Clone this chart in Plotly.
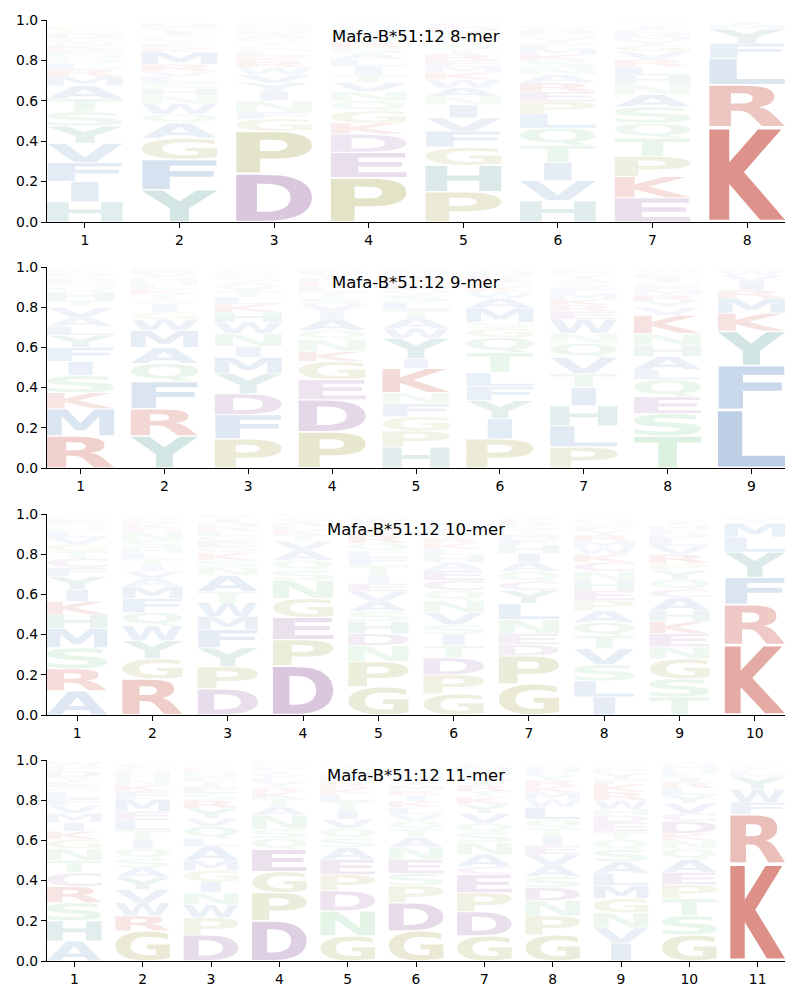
import glob
import os
import struct
import subprocess
import plotly.graph_objects as go

# ---------------- data (letters listed bottom -> top, heights = probability) -------------
mer8_letters = [
    "HIFVYSTAMRLQNEKWCDGP", "YFGAQWNHSLVRMKETPICD", "DPGFNIYVWRKLSTQAEHMC",
    "PEDKGQNVTILASRYMFHWC", "PHGFVINAWKMERTSQLYDC", "HVITQLPERANSKMFYGDWC",
    "EKPTQSANHLRVGYMDFIWC", "KRLFYMI",
]
mer8_heights = [
    [.100, .100, .095, .095, .085, .070, .065, .065, .045, .035, .030, .025, .025, .020, .020, .015, .020, .020, .020, .020],
    [.160, .150, .105, .075, .045, .050, .040, .035, .030, .030, .025, .035, .060, .020, .020, .020, .020, .025, .020, .020],
    [.240, .210, .060, .035, .055, .045, .045, .040, .035, .030, .025, .025, .025, .020, .020, .020, .015, .015, .015, .010],
    [.220, .125, .090, .055, .060, .050, .045, .045, .040, .040, .035, .030, .030, .025, .020, .020, .020, .015, .010, .010],
    [.150, .130, .090, .080, .065, .065, .040, .045, .040, .035, .030, .030, .030, .025, .025, .020, .020, .020, .025, .020],
    [.105, .100, .090, .085, .085, .070, .060, .050, .045, .040, .035, .035, .030, .030, .025, .025, .020, .020, .015, .010],
    [.120, .105, .100, .090, .075, .080, .060, .050, .045, .045, .035, .040, .030, .025, .020, .020, .015, .015, .010, .010],
    [.470, .210, .130, .075, .070, .020, .015],
]

mer9_letters = [
    "RMKSIFYLAVTHQNEGDWCP", "YRFQAMWGISTKLHNVEPDC", "PFDYMINWHKLTVASEQGRC",
    "PDEGKNQAIVSTLRHYFMWC", "HPGFNKIYWATLSQERVMDC", "PIYFLTQGSMAWKNREHVDC",
    "PLHITVQNWERKMFSAYGDC", "TSEQLAHNKVYRMFGIDPWC", "LFYKMRIVWH",
]
mer9_heights = [
    [.160, .135, .080, .085, .070, .070, .060, .045, .045, .050, .035, .040, .025, .020, .020, .015, .015, .010, .010, .010],
    [.160, .135, .135, .090, .080, .085, .055, .035, .040, .025, .025, .025, .020, .020, .020, .020, .015, .010, .005, .005],
    [.145, .120, .105, .100, .080, .055, .065, .055, .050, .040, .035, .030, .025, .020, .020, .015, .015, .010, .010, .005],
    [.180, .160, .100, .090, .050, .060, .045, .055, .040, .035, .030, .030, .025, .025, .020, .020, .015, .010, .005, .005],
    [.105, .080, .070, .065, .055, .120, .050, .100, .050, .050, .040, .040, .035, .030, .030, .025, .020, .015, .010, .010],
    [.145, .100, .090, .070, .070, .100, .075, .045, .030, .070, .050, .030, .025, .020, .020, .020, .015, .010, .010, .005],
    [.105, .105, .100, .090, .070, .080, .070, .050, .070, .040, .030, .030, .030, .025, .025, .020, .020, .010, .010, .010],
    [.160, .110, .085, .085, .050, .065, .055, .060, .090, .040, .030, .030, .025, .020, .020, .020, .015, .015, .010, .010],
    [.290, .220, .170, .090, .075, .040, .045, .030, .020, .010],
]

mer10_letters = [
    "ARSMHKIYFCTGVLNQEDPW", "RGYWQFMAVITLHSNEKDPC", "DPYFMWTANSKQEGLRHIVC",
    "DPEGNSQAVTKLRYFIHM", "GPNDHSAVEITFLQRKYMWC", "GPDTISVNQCEAHLKRYFMW",
    "GPDENLYCQAIHFMTSRKWV", "ILSVTQAPEHNCKWMRYFGD", "TSGNEKHACQYPRVLDFMIW",
    "KRFYLMIHW",
]
mer10_heights = [
    [.120, .110, .105, .095, .070, .065, .060, .065, .045, .045, .035, .035, .035, .030, .020, .020, .015, .010, .010, .010],
    [.180, .100, .090, .075, .065, .070, .060, .040, .035, .030, .030, .030, .025, .040, .040, .020, .020, .015, .015, .010],
    [.130, .110, .095, .090, .065, .070, .055, .080, .040, .035, .035, .030, .030, .025, .025, .020, .020, .020, .015, .010],
    [.245, .130, .110, .095, .090, .050, .050, .050, .045, .030, .025, .020, .015, .015, .010, .010, .010, .005],
    [.140, .125, .080, .060, .060, .050, .050, .050, .040, .040, .050, .040, .030, .040, .040, .025, .020, .015, .020, .010],
    [.105, .095, .085, .060, .055, .050, .060, .060, .050, .050, .050, .040, .035, .030, .030, .025, .025, .020, .020, .015],
    [.155, .140, .055, .055, .070, .080, .065, .045, .050, .045, .045, .040, .030, .025, .020, .020, .020, .015, .010, .010],
    [.090, .080, .080, .080, .065, .065, .060, .050, .050, .050, .045, .045, .040, .035, .030, .030, .025, .020, .020, .015],
    [.090, .090, .100, .060, .065, .060, .055, .065, .040, .050, .045, .035, .045, .040, .040, .025, .020, .020, .015, .010],
    [.350, .200, .135, .125, .075, .070, .015, .010, .010],
]

mer11_letters = [
    "AHSRCTNGKIMVFLQEYDPW", "GRWVYASQITLEMFKNHDPC", "DPWNIGMALQVYRSETFHKC",
    "DPGEQSNATKRYLVIFHMWC", "GNDPEASQVITLKRHMFYWC", "GDPSENATQVLKIRMYHFWC",
    "GDPECANSQVYKTRILHMFW", "GPNDSAVEITQLWMKRYFHC", "IVNGMLASQTEDHWRKFYPC",
    "GSTPEAQNKDCVYLRIFHMW", "KRFWYMLIEVH",
]
mer11_heights = [
    [.100, .100, .090, .080, .070, .060, .060, .045, .040, .045, .045, .040, .035, .030, .025, .025, .025, .030, .025, .020],
    [.150, .075, .065, .065, .060, .050, .045, .050, .045, .045, .050, .045, .060, .040, .030, .030, .030, .015, .015, .020],
    [.130, .085, .065, .060, .055, .055, .050, .070, .040, .060, .040, .050, .040, .035, .030, .030, .025, .020, .015, .010],
    [.200, .140, .105, .110, .055, .045, .070, .045, .040, .030, .025, .025, .020, .020, .015, .015, .010, .010, .010, .010],
    [.125, .125, .100, .080, .075, .060, .045, .050, .045, .045, .045, .035, .030, .025, .020, .020, .015, .015, .010, .010],
    [.150, .140, .085, .060, .070, .060, .050, .040, .040, .035, .035, .030, .030, .025, .025, .025, .020, .020, .010, .010],
    [.125, .120, .095, .090, .040, .060, .060, .050, .045, .050, .045, .035, .030, .030, .025, .025, .020, .020, .015, .010],
    [.130, .095, .075, .065, .055, .055, .055, .045, .045, .040, .045, .060, .040, .035, .030, .030, .025, .020, .020, .010],
    [.090, .075, .075, .070, .065, .060, .060, .060, .050, .040, .045, .035, .030, .045, .040, .040, .025, .030, .025, .010],
    [.130, .095, .085, .070, .060, .065, .055, .040, .035, .060, .040, .050, .040, .035, .030, .025, .020, .020, .020, .015],
    [.485, .245, .060, .065, .060, .020, .015, .010, .010, .010, .010],
]

titles = ["Mafa-B*51:12 8-mer", "Mafa-B*51:12 9-mer", "Mafa-B*51:12 10-mer", "Mafa-B*51:12 11-mer"]
y_ticks = [0.0, 0.2, 0.4, 0.6, 0.8, 1.0]
y_ticklabels = ["0.0", "0.2", "0.4", "0.6", "0.8", "1.0"]

# ---------------- style -------------------------------------------------------------------
COLORS = {}
for ch in "KR":
    COLORS[ch] = (192, 57, 43)
for ch in "DE":
    COLORS[ch] = (140, 80, 150)
for ch in "PG":
    COLORS[ch] = (160, 160, 70)
for ch in "HY":
    COLORS[ch] = (70, 145, 140)
for ch in "AVLIFMW":
    COLORS[ch] = (75, 125, 185)
for ch in "STNQ":
    COLORS[ch] = (110, 195, 125)
COLORS["C"] = (150, 100, 160)

GLYPH_WIDTH = 0.8
VPAD = 0.05
FONT = "DejaVu Sans"


def alpha_of(h):
    return max(0.02, min(1.0, h ** 0.8))


# ---------------- minimal TrueType outline reader ----------------------------------------
def find_font():
    pats = ["/usr/share/fonts/**/DejaVuSans-Bold.ttf",
            "/usr/local/share/fonts/**/DejaVuSans-Bold.ttf",
            os.path.expanduser("~/.fonts/**/DejaVuSans-Bold.ttf"),
            "/usr/share/fonts/**/DejaVuSans-Bold*.ttf"]
    for p in pats:
        r = glob.glob(p, recursive=True)
        if r:
            return r[0]
    try:
        out = subprocess.run(["fc-match", "-f", "%{file}", "DejaVu Sans:bold"],
                             capture_output=True, text=True, timeout=10).stdout.strip()
        if out and os.path.exists(out) and out.lower().endswith(".ttf"):
            return out
    except Exception:
        pass
    for p in ["/usr/share/fonts/**/LiberationSans-Bold.ttf", "/usr/share/fonts/**/*Bold*.ttf"]:
        r = glob.glob(p, recursive=True)
        if r:
            return r[0]
    return None


def load_glyphs(path, chars):
    data = open(path, "rb").read()
    ntab = struct.unpack(">H", data[4:6])[0]
    tables = {}
    for i in range(ntab):
        tag, _cs, off, ln = struct.unpack(">4sIII", data[12 + 16 * i:28 + 16 * i])
        tables[tag.decode("latin1")] = off
    head = tables["head"]
    locfmt = struct.unpack(">h", data[head + 50:head + 52])[0]
    maxp = tables["maxp"]
    ng = struct.unpack(">H", data[maxp + 4:maxp + 6])[0]
    loca = tables["loca"]
    if locfmt == 0:
        offs = [2 * v for v in struct.unpack(">%dH" % (ng + 1), data[loca:loca + 2 * (ng + 1)])]
    else:
        offs = list(struct.unpack(">%dI" % (ng + 1), data[loca:loca + 4 * (ng + 1)]))
    glyf = tables["glyf"]
    cmap = tables["cmap"]
    nsub = struct.unpack(">H", data[cmap + 2:cmap + 4])[0]
    sub = None
    for i in range(nsub):
        pid, eid, off = struct.unpack(">HHI", data[cmap + 4 + 8 * i:cmap + 12 + 8 * i])
        fmt = struct.unpack(">H", data[cmap + off:cmap + off + 2])[0]
        if fmt == 4 and pid in (0, 3):
            sub = cmap + off
            break
    segx2 = struct.unpack(">H", data[sub + 6:sub + 8])[0]
    seg = segx2 // 2
    ends = struct.unpack(">%dH" % seg, data[sub + 14:sub + 14 + segx2])
    so = sub + 16 + segx2
    starts = struct.unpack(">%dH" % seg, data[so:so + segx2])
    do = so + segx2
    deltas = struct.unpack(">%dh" % seg, data[do:do + segx2])
    ro = do + segx2
    ros = struct.unpack(">%dH" % seg, data[ro:ro + segx2])

    def gid(c):
        code = ord(c)
        for i in range(seg):
            if ends[i] >= code:
                if starts[i] > code:
                    return 0
                if ros[i] == 0:
                    return (code + deltas[i]) & 0xFFFF
                addr = ro + 2 * i + ros[i] + 2 * (code - starts[i])
                g = struct.unpack(">H", data[addr:addr + 2])[0]
                return ((g + deltas[i]) & 0xFFFF) if g else 0
        return 0

    def contours_of(g):
        s = glyf + offs[g]
        e = glyf + offs[g + 1]
        if e <= s:
            return []
        nc = struct.unpack(">h", data[s:s + 2])[0]
        p = s + 10
        if nc < 0:
            res = []
            while True:
                flags, gi = struct.unpack(">HH", data[p:p + 4])
                p += 4
                if flags & 1:
                    a1, a2 = struct.unpack(">hh", data[p:p + 4])
                    p += 4
                else:
                    a1, a2 = struct.unpack(">bb", data[p:p + 2])
                    p += 2
                sx = sy = 1.0
                if flags & 8:
                    sx = sy = struct.unpack(">h", data[p:p + 2])[0] / 16384.0
                    p += 2
                elif flags & 0x40:
                    sx, sy = [v / 16384.0 for v in struct.unpack(">hh", data[p:p + 4])]
                    p += 4
                elif flags & 0x80:
                    p += 8
                dx, dy = (a1, a2) if flags & 2 else (0, 0)
                for c in contours_of(gi):
                    res.append([(x * sx + dx, y * sy + dy, on) for x, y, on in c])
                if not flags & 0x20:
                    break
            return res
        endpts = struct.unpack(">%dH" % nc, data[p:p + 2 * nc])
        p += 2 * nc
        ilen = struct.unpack(">H", data[p:p + 2])[0]
        p += 2 + ilen
        npts = endpts[-1] + 1 if nc else 0
        fl = []
        while len(fl) < npts:
            f = data[p]
            p += 1
            fl.append(f)
            if f & 8:
                r = data[p]
                p += 1
                fl.extend([f] * r)
        fl = fl[:npts]
        xs, v = [], 0
        for f in fl:
            if f & 2:
                d = data[p]
                p += 1
                v += d if f & 16 else -d
            elif not f & 16:
                v += struct.unpack(">h", data[p:p + 2])[0]
                p += 2
            xs.append(v)
        ys, v = [], 0
        for f in fl:
            if f & 4:
                d = data[p]
                p += 1
                v += d if f & 32 else -d
            elif not f & 32:
                v += struct.unpack(">h", data[p:p + 2])[0]
                p += 2
            ys.append(v)
        res, st = [], 0
        for e2 in endpts:
            res.append([(xs[i], ys[i], bool(fl[i] & 1)) for i in range(st, e2 + 1)])
            st = e2 + 1
        return res

    def segments(pts):
        if not any(on for _, _, on in pts):
            mx = (pts[0][0] + pts[-1][0]) / 2.0
            my = (pts[0][1] + pts[-1][1]) / 2.0
            pts = [(mx, my, True)] + pts
        k = next(i for i, t in enumerate(pts) if t[2])
        seq = pts[k:] + pts[:k]
        segs = [("M", (seq[0][0], seq[0][1]))]
        ctrl = None
        for x, y, on in seq[1:] + [seq[0]]:
            if on:
                if ctrl is None:
                    segs.append(("L", (x, y)))
                else:
                    segs.append(("Q", ctrl, (x, y)))
                    ctrl = None
            else:
                if ctrl is None:
                    ctrl = (x, y)
                else:
                    segs.append(("Q", ctrl, ((ctrl[0] + x) / 2.0, (ctrl[1] + y) / 2.0)))
                    ctrl = (x, y)
        segs.append(("Z",))
        return segs

    out = {}
    for ch in chars:
        cs = contours_of(gid(ch))
        allp = [(x, y) for c in cs for x, y, _ in c]
        if not allp:
            continue
        bb = (min(p[0] for p in allp), min(p[1] for p in allp),
              max(p[0] for p in allp), max(p[1] for p in allp))
        segs = []
        for c in cs:
            segs.extend(segments(c))
        out[ch] = (segs, bb)
    return out


ALPHABET = "ACDEFGHIKLMNPQRSTVWY"
glyphs = {}
try:
    fp = find_font()
    if fp:
        glyphs = load_glyphs(fp, ALPHABET)
except Exception:
    glyphs = {}

E_WIDTH = (glyphs["E"][1][2] - glyphs["E"][1][0]) if "E" in glyphs else None


def glyph_path(ch, xc, floor, ceil):
    segs, (bx0, by0, bx1, by1) = glyphs[ch]
    cw = bx1 - bx0
    hs = min(GLYPH_WIDTH / cw, GLYPH_WIDTH / E_WIDTH)
    left = xc - cw * hs / 2.0
    vs = (ceil - floor) / (by1 - by0)

    def X(v):
        return "%.5f" % (left + (v - bx0) * hs)

    def Y(v):
        return "%.6f" % (floor + (v - by0) * vs)

    parts = []
    for s in segs:
        if s[0] == "M":
            parts.append("M%s,%s" % (X(s[1][0]), Y(s[1][1])))
        elif s[0] == "L":
            parts.append("L%s,%s" % (X(s[1][0]), Y(s[1][1])))
        elif s[0] == "Q":
            parts.append("Q%s,%s %s,%s" % (X(s[1][0]), Y(s[1][1]), X(s[2][0]), Y(s[2][1])))
        else:
            parts.append("Z")
    return " ".join(parts)


# ---------------- figure ------------------------------------------------------------------
panels = [(mer8_letters, mer8_heights), (mer9_letters, mer9_heights),
          (mer10_letters, mer10_heights), (mer11_letters, mer11_heights)]
y_domains = [(0.778, 0.980), (0.532, 0.733), (0.285, 0.486), (0.039, 0.240)]
x_domain = (47 / 800.0, 785 / 800.0)

fig = go.Figure()
shapes = []
annotations = []
layout = {}

for k, (letters, heights) in enumerate(panels):
    idx = "" if k == 0 else str(k + 1)
    xa, ya = "x" + idx, "y" + idx
    n = len(letters)
    positions = list(range(1, n + 1))
    fig.add_trace(go.Scatter(x=positions, y=[0] * n, mode="markers",
                             marker=dict(size=1, opacity=0), hoverinfo="skip",
                             showlegend=False, xaxis=xa, yaxis=ya))
    for pos, (col, hts) in enumerate(zip(letters, heights), start=1):
        base = 0.0
        for ch, h in zip(col, hts):
            floor = base + VPAD * h / 2.0
            ceil = base + h - VPAD * h / 2.0
            r, g, b = COLORS[ch]
            a = alpha_of(h)
            if ch in glyphs:
                shapes.append(dict(type="path", xref=xa, yref=ya,
                                   path=glyph_path(ch, pos, floor, ceil),
                                   fillcolor="rgba(%d,%d,%d,%.3f)" % (r, g, b, a),
                                   line=dict(width=0), layer="above"))
            else:
                annotations.append(dict(x=pos, y=(floor + ceil) / 2, xref=xa, yref=ya,
                                        text="<b>%s</b>" % ch, showarrow=False,
                                        font=dict(family=FONT, size=max(4, h * 200 * 1.3),
                                                  color="rgba(%d,%d,%d,%.3f)" % (r, g, b, a))))
            base += h
    axis_common = dict(showline=True, linecolor="black", linewidth=1.1, ticks="outside",
                       ticklen=5, tickwidth=1.1, tickcolor="black", showgrid=False,
                       zeroline=False, tickfont=dict(family=FONT, size=13.9, color="black"),
                       fixedrange=True, automargin=False)
    layout["xaxis" + idx] = dict(domain=list(x_domain), anchor=ya, range=[0.6, n + 0.4],
                                 tickmode="array", tickvals=positions,
                                 ticktext=[str(p) for p in positions], **axis_common)
    layout["yaxis" + idx] = dict(domain=list(y_domains[k]), anchor=xa, range=[0, 1],
                                 tickmode="array", tickvals=y_ticks, ticktext=y_ticklabels,
                                 **axis_common)
    annotations.append(dict(text=titles[k], x=0.5, y=1 - 16.0 / 202.0,
                            xref=xa + " domain", yref=ya + " domain",
                            xanchor="center", yanchor="middle", showarrow=False,
                            font=dict(family=FONT, size=16.5, color="black")))

fig.update_layout(
    width=800, height=1000,
    margin=dict(l=0, r=0, t=0, b=0, autoexpand=False),
    paper_bgcolor="white", plot_bgcolor="white",
    showlegend=False,
    shapes=shapes, annotations=annotations,
    font=dict(family=FONT, color="black"),
    **layout,
)

fig.write_html("out.html")
